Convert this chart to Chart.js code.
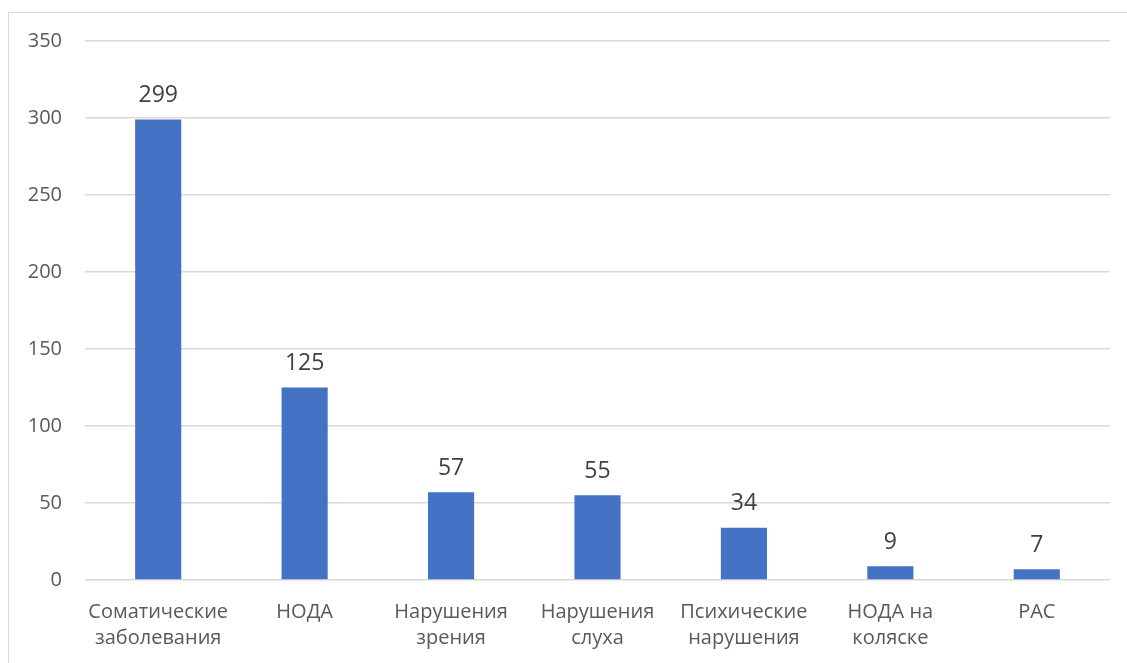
<!DOCTYPE html>
<html>
<head>
<meta charset="utf-8">
<script src="https://cdn.jsdelivr.net/npm/chart.js@4/dist/chart.umd.min.js"></script>
<style>
  html, body { margin: 0; padding: 0; background: #fff; overflow: hidden; }
  #wrap { position: relative; width: 1127px; height: 663px; }
  #frame { position: absolute; left: 8px; top: 12px; width: 1130px; height: 700px; border: 1px solid #d9d9d9; box-sizing: border-box; }
  canvas { position: absolute; left: 0; top: 0; }
</style>
</head>
<body>
<div id="wrap">
  <div id="frame"></div>
  <canvas id="myChart" width="1127" height="663"></canvas>
</div>
<script>
'use strict'
const categories = [
  ['Соматические', 'заболевания'],
  'НОДА',
  ['Нарушения', 'зрения'],
  ['Нарушения', 'слуха'],
  ['Психические', 'нарушения'],
  ['НОДА на', 'коляске'],
  'РАС'
];
const counts = [299, 125, 57, 55, 34, 9, 7];
const yTicks = [0, 50, 100, 150, 200, 250, 300, 350];
const fontFamily = '"Open Sans", "Noto Sans", sans-serif';

// draws the numbers above every bar
const valueLabels = {
  id: 'valueLabels',
  afterDatasetsDraw(chart) {
    const ctx = chart.ctx;
    const meta = chart.getDatasetMeta(0);
    ctx.save();
    ctx.font = '23px ' + fontFamily;
    ctx.fillStyle = '#404040';
    ctx.textAlign = 'center';
    ctx.textBaseline = 'middle';
    meta.data.forEach(function (bar, i) {
      ctx.fillText(String(counts[i]), bar.x, bar.y - 24);
    });
    ctx.restore();
  }
};

const ctx = document.getElementById('myChart').getContext('2d');
const myChart = new Chart(ctx, {
  type: 'bar',
  data: {
    labels: categories,
    datasets: [{
      data: counts,
      backgroundColor: '#4472C4',
      borderWidth: 0,
      categoryPercentage: 1,
      barPercentage: 0.315
    }]
  },
  options: {
    responsive: false,
    animation: false,
    devicePixelRatio: 1,
    layout: { padding: { top: 41, right: 17, left: 0, bottom: 0 } },
    plugins: {
      legend: { display: false },
      tooltip: { enabled: false }
    },
    scales: {
      x: {
        grid: { display: false, drawTicks: false },
        border: { display: false },
        ticks: {
          color: '#595959',
          font: { family: fontFamily, size: 20, lineHeight: 1.3 },
          padding: 19,
          maxRotation: 0,
          autoSkip: false
        },
        afterFit(scale) { scale.height = 83; }
      },
      y: {
        min: 0,
        max: 350,
        afterBuildTicks(scale) {
          scale.ticks = yTicks.map(function (v) { return { value: v }; });
        },
        grid: { color: '#d9d9d9', lineWidth: 1.5, drawTicks: false },
        border: { display: false },
        ticks: {
          color: '#595959',
          font: { family: fontFamily, size: 20 },
          padding: 23
        },
        afterFit(scale) { scale.width = 85; }
      }
    }
  },
  plugins: [valueLabels]
});
</script>
</body>
</html>
